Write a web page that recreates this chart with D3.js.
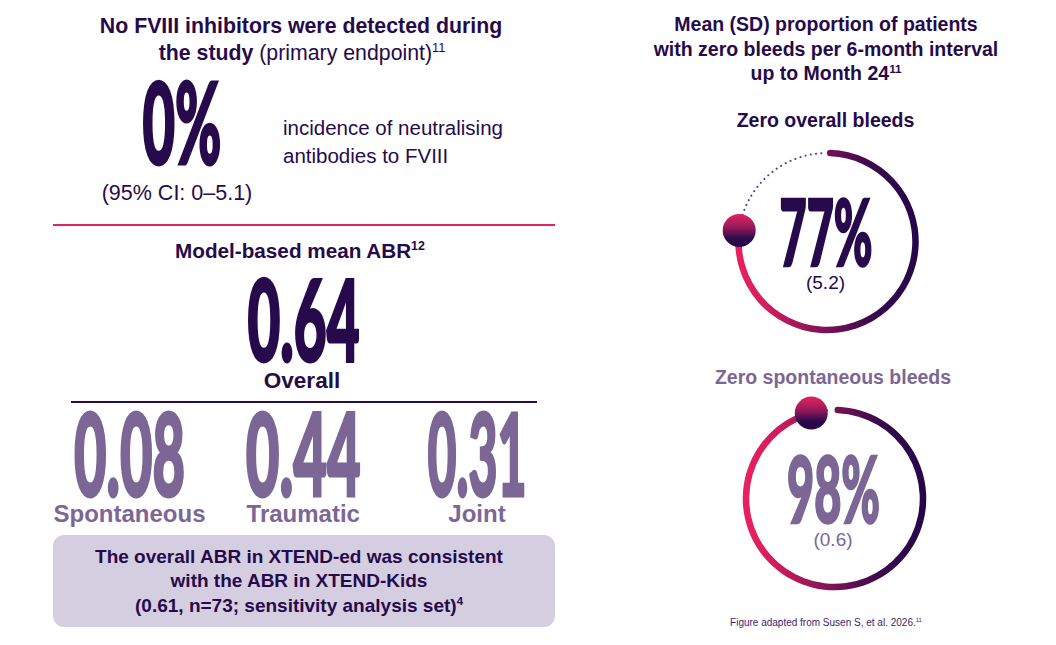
<!DOCTYPE html>
<html><head><meta charset="utf-8">
<script src="https://cdn.jsdelivr.net/npm/d3@7"></script>
<style>
html,body{margin:0;padding:0;background:#fff;}
svg{display:block;}
text{font-family:"Liberation Sans",Arial,sans-serif;}
.num{font-family:Lato,Roboto,"Liberation Sans",sans-serif;font-weight:900;}
</style></head>
<body>
<script>
// ---------- data ----------
const inhibitorIncidence = ["0%"];
const inhibitorCI = ["(95% CI: 0\u20135.1)"];
const abrOverall = ["0.64"];
const abrCategories = ["Spontaneous", "Traumatic", "Joint"];
const abrValues = ["0.08", "0.44", "0.31"];
const ringTitles = ["Zero overall bleeds", "Zero spontaneous bleeds"];
const ringMeans = [77, 98];
const ringSDs = [5.2, 0.6];

// ---------- setup ----------
const W = 1056, H = 645;
const DARK = "#260a4b", LIGHT = "#7b6695", PINK = "#e0245e";
const svg = d3.select("body").append("svg").attr("width", W).attr("height", H);
const defs = svg.append("defs");

function addText(x, y, parts, opts) {
  const t = svg.append("text").attr("x", x).attr("y", y)
    .attr("text-anchor", opts.anchor || "middle")
    .attr("fill", opts.fill || DARK)
    .attr("font-size", opts.size)
    .attr("font-weight", opts.weight || "normal");
  parts.forEach(p => {
    const s = t.append("tspan").text(p.t);
    if (p.w) s.attr("font-weight", p.w);
    if (p.sup) s.attr("font-size", opts.size * 0.6).attr("dy", -opts.size * 0.38);
  });
  return t;
}
function bigNum(x, y, str, width, size, fill, sw) {
  return svg.append("text").attr("class", "num")
    .attr("x", x).attr("y", y).attr("text-anchor", "middle")
    .attr("font-size", size).attr("fill", fill)
    .attr("stroke", fill).attr("stroke-width", sw).attr("stroke-linejoin", "miter")
    .attr("textLength", width).attr("lengthAdjust", "spacingAndGlyphs")
    .text(str);
}

// ---------- left: inhibitors ----------
addText(301, 33, [{t: "No FVIII inhibitors were detected during"}], {size: 21.3, weight: "bold"});
addText(302, 60, [{t: "the study "}, {t: "(primary endpoint)", w: "normal"}, {t: "11", w: "normal", sup: true}], {size: 21.3, weight: "bold"});
bigNum(182, 164, inhibitorIncidence[0], 79, 112, DARK, 3);
addText(283, 135, [{t: "incidence of neutralising"}], {size: 20.5, anchor: "start"});
addText(283, 163, [{t: "antibodies to FVIII"}], {size: 20.5, anchor: "start"});
addText(177, 200, [{t: inhibitorCI[0]}], {size: 21.5});

svg.append("line").attr("x1", 53).attr("x2", 555).attr("y1", 225).attr("y2", 225)
  .attr("stroke", PINK).attr("stroke-width", 2);

// ---------- left: ABR ----------
addText(300, 258, [{t: "Model-based mean ABR"}, {t: "12", sup: true}], {size: 20.7, weight: "bold"});
bigNum(303.5, 361, abrOverall[0], 112, 112, DARK, 3);
addText(302, 388, [{t: "Overall"}], {size: 22.5, weight: "bold"});
svg.append("line").attr("x1", 71).attr("x2", 537).attr("y1", 402).attr("y2", 402)
  .attr("stroke", DARK).attr("stroke-width", 2);

const xCat = d3.scalePoint().domain(abrCategories).range([129.5, 477]);
const numWidths = [111, 115, 99];
abrCategories.forEach((c, i) => {
  bigNum(xCat(c), 496, abrValues[i], numWidths[i], 114, LIGHT, 3);
  addText(xCat(c), 522, [{t: c}], {size: 24, weight: "bold", fill: LIGHT});
});

// box
svg.append("rect").attr("x", 53).attr("y", 535).attr("width", 502).attr("height", 92)
  .attr("rx", 11).attr("fill", "#d5cee0");
addText(299, 563, [{t: "The overall ABR in XTEND-ed was consistent"}], {size: 19, weight: "bold"});
addText(299, 587, [{t: "with the ABR in XTEND-Kids"}], {size: 19, weight: "bold"});
addText(299, 612, [{t: "(0.61, n=73; sensitivity analysis set)"}, {t: "4", sup: true}], {size: 19, weight: "bold"});

// ---------- right: rings ----------
addText(826, 31, [{t: "Mean (SD) proportion of patients"}], {size: 19.5, weight: "bold"});
addText(826, 56, [{t: "with zero bleeds per 6-month interval"}], {size: 19.5, weight: "bold"});
addText(826, 80, [{t: "up to Month 24"}, {t: "11", sup: true}], {size: 19.5, weight: "bold"});

const rings = [
  {cx: 827, cy: 241.5, titleY: 127, titleFill: DARK, numY: 266, numFill: DARK, sdY: 289},
  {cx: 834.5, cy: 498.5, titleY: 384, titleFill: LIGHT, numY: 523, numFill: LIGHT, sdY: 546}
];
const R = 88.5, SW = 6.5, BALL = 16.5, GAP = 7;
const angle = d3.scaleLinear().domain([0, 100]).range([0, 2 * Math.PI]);

// ball gradient
const bg = defs.append("linearGradient").attr("id", "ballGrad")
  .attr("x1", 0).attr("y1", 0).attr("x2", 0).attr("y2", 1);
bg.append("stop").attr("offset", 0).attr("stop-color", "#e0245e");
bg.append("stop").attr("offset", 0.4).attr("stop-color", "#9a1a5a");
bg.append("stop").attr("offset", 0.75).attr("stop-color", "#2a0a4c");
bg.append("stop").attr("offset", 1).attr("stop-color", "#26064a");

// arc gradient (local ring coordinates)
const lg = defs.append("linearGradient").attr("id", "arcGrad")
  .attr("gradientUnits", "userSpaceOnUse")
  .attr("x1", -R).attr("y1", 0).attr("x2", R).attr("y2", 0);
lg.append("stop").attr("offset", 0).attr("stop-color", "#e8215e");
lg.append("stop").attr("offset", 0.15).attr("stop-color", "#d41d5c");
lg.append("stop").attr("offset", 0.5).attr("stop-color", "#771356");
lg.append("stop").attr("offset", 0.75).attr("stop-color", "#3a0a4c");
lg.append("stop").attr("offset", 1).attr("stop-color", "#26064a");

ringMeans.forEach((v, i) => {
  const g = rings[i];
  addText(g.cx - 1.5, g.titleY, [{t: ringTitles[i]}], {size: 19.5, weight: "bold", fill: g.titleFill});

  const maxA = 2 * Math.PI - (BALL + GAP) / R;
  const endA = Math.min(angle(v), maxA);
  const grp = svg.append("g").attr("transform", `translate(${g.cx},${g.cy})`);

  // dotted remainder
  const p = d3.path();
  p.arc(0, 0, R, endA - Math.PI / 2, -Math.PI / 2 + 2 * Math.PI - 0.04);
  grp.append("path").attr("d", p.toString()).attr("fill", "none")
    .attr("stroke", "#4d3f98").attr("stroke-width", 2)
    .attr("stroke-linecap", "round").attr("stroke-dasharray", "0.1 5.2");

  // gradient arc
  grp.append("path")
    .attr("d", d3.arc().innerRadius(R - SW / 2).outerRadius(R + SW / 2)
      .cornerRadius(SW / 2).startAngle(0).endAngle(endA)())
    .attr("fill", "url(#arcGrad)");

  // ball
  grp.append("circle")
    .attr("cx", R * Math.sin(endA)).attr("cy", -R * Math.cos(endA))
    .attr("r", BALL).attr("fill", "url(#ballGrad)");

  bigNum(g.cx - 1, g.numY, v + "%", 93, 91, g.numFill, 2.5);
  addText(g.cx - 1.5, g.sdY, [{t: "(" + ringSDs[i] + ")"}], {size: 19, fill: g.numFill});
});

addText(826, 626, [{t: "Figure adapted from Susen S, et al. 2026."}, {t: "11", sup: true}], {size: 10, fill: "#3d2370"});
</script>
</body></html>
